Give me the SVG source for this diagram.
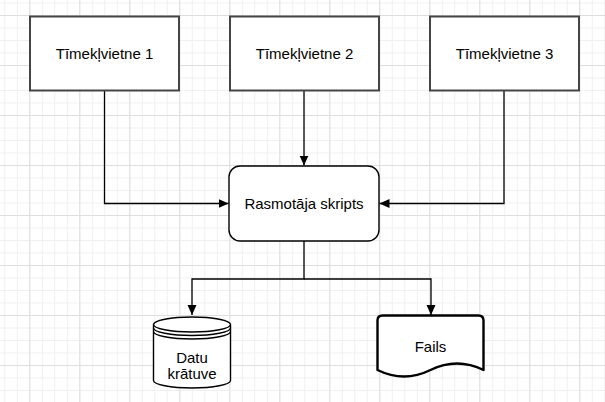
<svg xmlns="http://www.w3.org/2000/svg" width="605" height="402" viewBox="0 0 605 402">
  <defs>
    <pattern id="minor" patternUnits="userSpaceOnUse" x="4.3" y="2.5" width="12.5" height="12.5">
      <path d="M0.5,0 V12.5 M0,0.5 H12.5" stroke="#efefef" stroke-width="1" fill="none"/>
    </pattern>
    <pattern id="major" patternUnits="userSpaceOnUse" x="29.3" y="15" width="50" height="50">
      <path d="M0.5,0 V50 M0,0.5 H50" stroke="#dedede" stroke-width="1" fill="none"/>
    </pattern>
    <marker id="arrow" markerWidth="10" markerHeight="10" viewBox="0 0 10 10" refX="10" refY="5" orient="auto" markerUnits="userSpaceOnUse">
      <path d="M0,0.5 L10,5 L0,9.5 Z" fill="#000"/>
    </marker>
    <style>
      .site { fill: #fff; stroke: #454545; stroke-width: 2; }
      .proc { fill: #fff; stroke: #000; stroke-width: 1.4; }
      .lbl { font-family: "Liberation Sans", Arial, sans-serif; font-size: 15px; fill: #000; text-anchor: middle; }
      .conn { fill: none; stroke: #000; stroke-width: 1.3; marker-end: url(#arrow); }
    </style>
  </defs>
  <rect width="605" height="402" fill="#fff"/>
  <rect width="605" height="402" fill="url(#minor)"/>
  <rect width="605" height="402" fill="url(#major)"/>

  <g id="connectors">
    <path class="conn" d="M104.5,91 V203.5 H228.5"/>
    <path class="conn" d="M304,91 V165.5"/>
    <path class="conn" d="M504,91 V203.5 H379.5"/>
    <path class="conn" d="M304,241 V279 H192 V315"/>
    <path class="conn" d="M304,279 H431 V315"/>
  </g>

  <g id="site1">
    <rect class="site" x="30" y="16.5" width="149" height="74"/>
    <text class="lbl" x="104.5" y="58.5">Tīmekļvietne 1</text>
  </g>
  <g id="site2">
    <rect class="site" x="230" y="16.5" width="149" height="74"/>
    <text class="lbl" x="304.5" y="58.5">Tīmekļvietne 2</text>
  </g>
  <g id="site3">
    <rect class="site" x="430" y="16.5" width="149" height="74"/>
    <text class="lbl" x="504.5" y="58.5">Tīmekļvietne 3</text>
  </g>

  <g id="script">
    <rect class="proc" x="229" y="166" width="150" height="75" rx="11" ry="11"/>
    <text class="lbl" x="304" y="208.5">Rasmotāja skripts</text>
  </g>

  <g id="datastore">
    <path class="proc" d="M153.5,324.5 A38.5,7.5 0 0 1 230.5,324.5 V380.5 A38.5,7.5 0 0 1 153.5,380.5 Z"/>
    <path d="M153.5,324.5 A38.5,7.5 0 0 0 230.5,324.5 M153.5,328 A38.5,7.5 0 0 0 230.5,328 M153.5,331.5 A38.5,7.5 0 0 0 230.5,331.5" fill="none" stroke="#000" stroke-width="1.4"/>
    <text class="lbl" x="192" y="362.5">Datu</text>
    <text class="lbl" x="192" y="379">krātuve</text>
  </g>

  <g id="file">
    <path d="M382.5,315.5 H478.5 Q483.5,315.5 483.5,320.5 V370 Q457,357 430.5,370 Q404,383 377.5,370 V320.5 Q377.5,315.5 382.5,315.5 Z" fill="#fff" stroke="#000" stroke-width="2.4" stroke-linejoin="round"/>
    <text class="lbl" x="430.5" y="351.5">Fails</text>
  </g>
</svg>
